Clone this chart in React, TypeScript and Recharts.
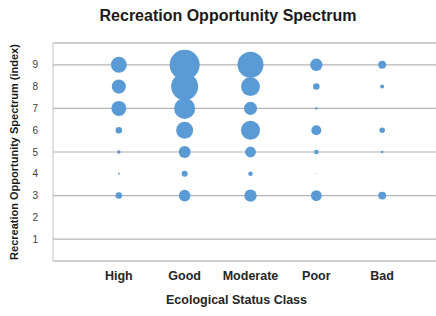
import React from 'react';
import {
  ScatterChart,
  Scatter,
  XAxis,
  YAxis,
  ZAxis,
  CartesianGrid,
  ReferenceLine
} from 'recharts';

const categories = ['High', 'Good', 'Moderate', 'Poor', 'Bad'];
const levels = [9, 8, 7, 6, 5, 4, 3];
const yTicks = [1, 2, 3, 4, 5, 6, 7, 8, 9];

// bubble sizes per level (9 -> 3)
const high = [28, 22, 25, 4.7, 1.4, 0.4, 4.7];
const good = [100, 81, 49, 32, 16, 4, 15];
const moderate = [75, 40, 19, 40, 13, 2.3, 17];
const poor = [17, 4.7, 0.7, 11, 2.3, 0.1, 13];
const bad = [7, 1.8, 0.1, 3.4, 0.7, 0, 7];

const series = [high, good, moderate, poor, bad];

const points = series.flatMap((vals, i) =>
  levels.map((lvl, j) => ({ x: i + 1, y: lvl, z: vals[j] }))
);

const font = '"Liberation Sans", Arial, sans-serif';

export default function App() {
  return (
    <div style={{ position: 'absolute', left: 0, top: 0, width: 436, height: 316, overflow: 'hidden', background: '#fff', fontFamily: font }}>
      <div style={{ position: 'absolute', left: 0, width: 456, top: 7, textAlign: 'center', fontSize: 16, fontWeight: 700, color: '#1a1a1a' }}>
        Recreation Opportunity Spectrum
      </div>
      <div
        style={{
          position: 'absolute',
          left: 14,
          top: 152,
          transform: 'translate(-50%, -50%) rotate(-90deg)',
          whiteSpace: 'nowrap',
          fontSize: 11,
          fontWeight: 700,
          color: '#1a1a1a'
        }}
      >
        Recreation Opportunity Spectrum (index)
      </div>
      <div style={{ position: 'absolute', left: 0, width: 473, top: 293, textAlign: 'center', fontSize: 12.5, fontWeight: 700, color: '#262626' }}>
        Ecological Status Class
      </div>
      <ScatterChart width={470} height={316} margin={{ top: 43, right: 22, bottom: 25, left: 0 }}>
        <CartesianGrid horizontal vertical={false} stroke="#b4b4b4" strokeWidth={1.2} />
        <XAxis
          type="number"
          dataKey="x"
          domain={[0, 6]}
          ticks={[1, 2, 3, 4, 5]}
          tickFormatter={(v: number) => categories[v - 1] ?? ''}
          height={30}
          axisLine={{ stroke: '#c4c4c4' }}
          tickLine={false}
          tickSize={0}
          tickMargin={10}
          tick={{ fill: '#262626', fontSize: 12.5, fontWeight: 700, fontFamily: font }}
        />
        <YAxis
          type="number"
          dataKey="y"
          domain={[0, 10]}
          ticks={yTicks}
          width={53}
          axisLine={{ stroke: '#c4c4c4' }}
          tickLine={false}
          tickSize={0}
          tickMargin={15}
          tick={{ fill: '#404040', fontSize: 10, fontFamily: font }}
        />
        <ZAxis type="number" dataKey="z" domain={[0, 100]} range={[0, 707]} />
        <ReferenceLine y={10} stroke="#c4c4c4" />
        <Scatter data={points} fill="#5b9bd5" isAnimationActive={false} />
      </ScatterChart>
    </div>
  );
}
